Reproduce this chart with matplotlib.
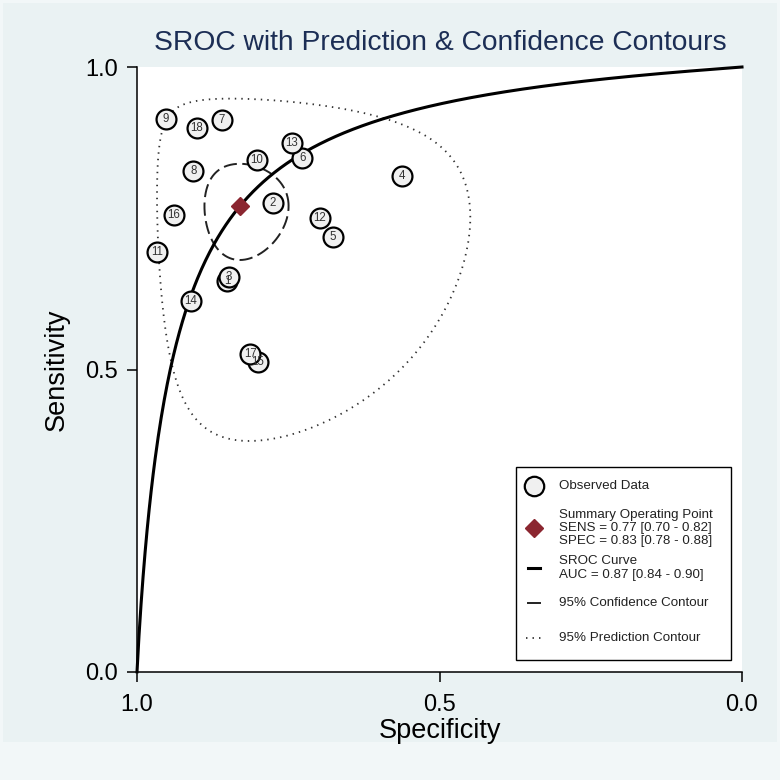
import numpy as np
import matplotlib
matplotlib.use('Agg')
import matplotlib.pyplot as plt
from matplotlib.patches import Rectangle
from matplotlib.lines import Line2D

plt.rcParams['font.family'] = ['Liberation Sans', 'DejaVu Sans']

#=============== data ===============
study = [1, 2, 3, 4, 5, 6, 7, 8, 9, 10, 11, 12, 13, 14, 15, 16, 17, 18]
spec = [0.851, 0.775, 0.848, 0.562, 0.676, 0.727, 0.860, 0.907, 0.952,
        0.802, 0.967, 0.698, 0.744, 0.911, 0.800, 0.939, 0.813, 0.901]
sens = [0.646, 0.775, 0.653, 0.820, 0.719, 0.850, 0.912, 0.828, 0.914,
        0.846, 0.694, 0.750, 0.874, 0.613, 0.512, 0.755, 0.526, 0.899]

summ_sens = 0.77
summ_spec = 0.83

# SROC curve in logit space: logit(sens) = a + b*logit(fpr)
sroc_a = 2.73
sroc_b = 0.96
# contours in logit space (half axes, correlation)
conf_hx, conf_hy, conf_rho = 0.49, 0.45, 0.0
pred_hx, pred_hy, pred_rho = 1.79, 1.69, -0.06

legend_lines = {
    'obs': ['Observed Data'],
    'sum': ['Summary Operating Point', 'SENS = 0.77 [0.70 - 0.82]', 'SPEC = 0.83 [0.78 - 0.88]'],
    'sroc': ['SROC Curve', 'AUC = 0.87 [0.84 - 0.90]'],
    'conf': ['95% Confidence Contour'],
    'pred': ['95% Prediction Contour'],
}

#=============== helpers ===============
def logit(p):
    return np.log(p / (1 - p))

def expit(x):
    return 1 / (1 + np.exp(-x))

def contour(hx, hy, rho):
    t = np.linspace(0, 2 * np.pi, 300)
    cx = logit(1 - summ_spec)
    cy = logit(summ_sens)
    lx = cx + hx * np.cos(t)
    ly = cy + hy * (rho * np.cos(t) + np.sqrt(1 - rho ** 2) * np.sin(t))
    return 1 - expit(lx), expit(ly)

W = 780.0
def fx(px):
    return px / W
def fy(py):
    return 1 - py / W

#=============== figure ===============
fig = plt.figure(figsize=(7.8, 7.8), dpi=100)
fig.patch.set_facecolor('#f2f7f8')
fig.patches.append(Rectangle((fx(3), fy(742)), fx(774), 739 / W, transform=fig.transFigure,
                             facecolor='#eaf2f3', edgecolor='none', zorder=-1))

ax = fig.add_axes([fx(137), fy(672), 605 / W, 605 / W])
ax.set_zorder(1)
ax.set_facecolor('white')
ax.set_xlim(1, 0)
ax.set_ylim(0, 1)
for s in ['top', 'right']:
    ax.spines[s].set_visible(False)
for s in ['left', 'bottom']:
    ax.spines[s].set_linewidth(1.1)
ax.set_xticks([1.0, 0.5, 0.0])
ax.set_yticks([0.0, 0.5, 1.0])
ax.set_xticklabels(['1.0', '0.5', '0.0'])
ax.set_yticklabels(['0.0', '0.5', '1.0'])
ax.tick_params(direction='out', length=7.5, width=1.1, labelsize=17, pad=6)
ax.tick_params(axis='x', pad=8)
ax.set_xlabel('Specificity', fontsize=19.5, labelpad=2)
ax.set_ylabel('Sensitivity', fontsize=19.5, labelpad=11)

# SROC curve
fpr = np.linspace(1e-5, 1 - 1e-5, 600)
sroc_sens = expit(sroc_a + sroc_b * logit(fpr))
ax.plot(1 - fpr, sroc_sens, color='black', lw=2.2, zorder=3, clip_on=False)

# contours
cxs, cys = contour(conf_hx, conf_hy, conf_rho)
ax.plot(cxs, cys, color='#222222', lw=1.4, linestyle=(0, (6.8, 2.8)), zorder=2)
pxs, pys = contour(pred_hx, pred_hy, pred_rho)
ax.plot(pxs, pys, color='#333333', lw=1.3, linestyle=(0, (0.8, 2.8)), zorder=2)

# observed studies
ax.scatter(spec, sens, s=205, facecolor='#f0f0f0', edgecolor='black', linewidth=1.6, zorder=4)
for i, st in enumerate(study):
    ax.text(spec[i], sens[i], str(st), fontsize=8.3, color='#333333',
            ha='center', va='center', zorder=5)

# summary point
ax.plot([summ_spec], [summ_sens], marker='D', markersize=9.5, color='#8b2630',
        markeredgecolor='#8b2630', zorder=6)

# title
fig.text(fx(440), fy(43), 'SROC with Prediction & Confidence Contours',
         fontsize=20.3, color='#1c2e55', ha='center', va='center')

#=============== legend (drawn by hand) ===============
fig.patches.append(Rectangle((fx(516), fy(660)), 215 / W, 193 / W, transform=fig.transFigure,
                             facecolor='white', edgecolor='black', linewidth=1.0, zorder=5))
tx = fx(559)
lsp = 13.4
def block(lines, yc):
    n = len(lines)
    for k, t in enumerate(lines):
        yy = yc + (k - (n - 1) / 2) * lsp
        fig.text(tx, fy(yy), t, fontsize=9.6, color='#222222', ha='left', va='center',
                 zorder=6)

fig.lines.append(Line2D([fx(534)], [fy(486)], marker='o', markersize=14, markerfacecolor='#f0f0f0',
                        markeredgecolor='black', markeredgewidth=1.6, transform=fig.transFigure, zorder=6))
block(legend_lines['obs'], 486)
fig.lines.append(Line2D([fx(534)], [fy(528)], marker='D', markersize=9.5, color='#8b2630',
                        transform=fig.transFigure, zorder=6))
block(legend_lines['sum'], 528)
fig.lines.append(Line2D([fx(528), fx(540)], [fy(568), fy(568)], color='black', lw=2.2,
                        transform=fig.transFigure, zorder=6))
block(legend_lines['sroc'], 568)
fig.lines.append(Line2D([fx(528), fx(540)], [fy(603), fy(603)], color='#222222', lw=1.4,
                        transform=fig.transFigure, zorder=6))
block(legend_lines['conf'], 603)
fig.lines.append(Line2D([fx(526), fx(541)], [fy(638), fy(638)], color='#333333', lw=1.3,
                        linestyle=(0, (0.8, 2.8)), transform=fig.transFigure, zorder=6))
block(legend_lines['pred'], 638)

fig.savefig('out.png', dpi=100, facecolor=fig.get_facecolor())
